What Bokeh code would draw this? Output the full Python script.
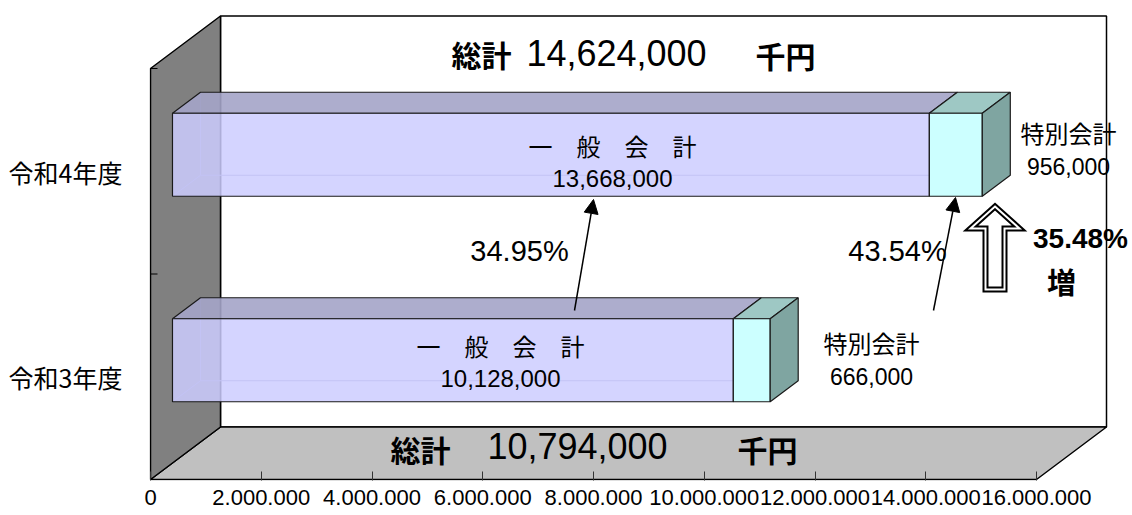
from bokeh.plotting import figure
from bokeh.models import Range1d, FixedTicker, Arrow, NormalHead
from bokeh.core.properties import value
from bokeh.embed import file_html
from bokeh.resources import INLINE

# ---------------- data ----------------
years = ["令和3年度", "令和4年度"]
general = [10128000, 13668000]      # 一般会計
special = [666000, 956000]          # 特別会計
totals = [10794000, 14624000]       # 総計
general_name = "一　般　会　計"
special_name = "特別会計"
total_name = "総計"
unit_name = "千円"
growth_general = "34.95%"
growth_special = "43.54%"
growth_total = "35.48%"
growth_word = "増"
x_ticks = [0, 2000000, 4000000, 6000000, 8000000, 10000000, 12000000, 14000000, 16000000]
x_tick_labels = ["0", "2.000.000", "4.000.000", "6.000.000", "8.000.000",
                 "10.000.000", "12.000.000", "14.000.000", "16.000.000"]

# ---------------- layout ----------------
W, H = 1132, 515
LEFT, BOTTOM = 149, 35
FRAME_W = W - LEFT
FRAME_H = H - BOTTOM
X_MAX = x_ticks[-1]
PX = 886.0 / X_MAX            # px per value unit on the front plane
x_start = -1.0 / PX
x_end = x_start + FRAME_W / PX
y_top = 479.0
y_start = y_top - FRAME_H

DXv = 70.0 / PX               # wall depth (x, in value units)
DY = 52.5                     # wall depth (y, px)
WALL_H = 411.0
BAND = WALL_H / len(years)
BAR_H = 83.0
T0, T1 = 0.314, 0.714

CJK = "Noto Sans CJK JP"
LAT = "Liberation Sans"


def X(px):
    return (px - 150.0) / PX


def Y(py):
    return 479.0 - py


p = figure(width=W, height=H, x_range=Range1d(x_start, x_end), y_range=Range1d(y_start, y_top),
           output_backend="svg", toolbar_location=None,
           min_border_left=LEFT, min_border_right=0, min_border_top=0, min_border_bottom=BOTTOM)
p.outline_line_color = None
p.xgrid.visible = False
p.ygrid.visible = False
p.background_fill_color = "white"
p.border_fill_color = "white"

# x axis
xa = p.xaxis[0]
xa.ticker = FixedTicker(ticks=x_ticks)
xa.major_label_overrides = {t: l for t, l in zip(x_ticks, x_tick_labels)}
xa.axis_line_color = None
xa.major_tick_in = 9
xa.major_tick_out = 0
xa.major_tick_line_color = "#333333"
xa.minor_tick_line_color = None
xa.major_label_standoff = 9
xa.major_label_text_font = LAT
xa.major_label_text_font_size = "22px"
xa.major_label_text_color = "black"

# y axis (categories)
cat_centers = [int(round((i + 0.5) * BAND)) for i in range(len(years))]
ya = p.yaxis[0]
ya.ticker = FixedTicker(ticks=cat_centers)
ya.major_label_overrides = {c: n for c, n in zip(cat_centers, years)}
ya.axis_line_color = None
ya.major_tick_line_color = None
ya.minor_tick_line_color = None
ya.major_label_standoff = 21
ya.major_label_text_font = CJK
ya.major_label_text_font_size = "25px"
ya.major_label_text_color = "black"

# ---------------- walls ----------------
p.quad(left=[DXv], right=[X_MAX + DXv], bottom=[DY], top=[WALL_H + DY],
       fill_color="white", line_color="black", line_width=1.5)
p.patch([0, X_MAX, X_MAX + DXv, DXv], [0, 0, DY, DY],
        fill_color="#C0C0C0", line_color="black", line_width=1.5)
p.patch([0, DXv, DXv, 0], [0, DY, WALL_H + DY, WALL_H],
        fill_color="#808080", line_color="black", line_width=1.5)
# category boundary ticks on the wall
bounds = [i * BAND for i in range(len(years) + 1)]
p.segment(x0=[0] * len(bounds), y0=bounds, x1=[7 / PX] * len(bounds), y1=bounds,
          line_color="black", line_width=1)

# ---------------- bars ----------------
xoff = T0 * DXv
yoff = T0 * DY
bdx = (T1 - T0) * DXv
bdy = (T1 - T0) * DY
EDGE = "#1a1a1a"

for i in range(len(years)):
    cy = (i + 0.5) * BAND
    bot = cy - BAR_H / 2 + yoff
    top = bot + BAR_H
    g_end = general[i]
    s_end = general[i] + special[i]
    # hidden edges (seen through the translucent front)
    p.multi_line(
        xs=[[xoff + bdx, xoff + bdx], [xoff + bdx, xoff + bdx + g_end], [xoff, xoff + bdx]],
        ys=[[bot + bdy, top + bdy], [bot + bdy, bot + bdy], [bot, bot + bdy]],
        line_color="#8a8ab8", line_width=1)
    # top faces
    p.patches(
        xs=[[xoff, xoff + g_end, xoff + g_end + bdx, xoff + bdx],
            [xoff + g_end, xoff + s_end, xoff + s_end + bdx, xoff + g_end + bdx]],
        ys=[[top, top, top + bdy, top + bdy]] * 2,
        fill_color=["#A4A4C8", "#9EC8C4"], fill_alpha=[0.9, 1.0],
        line_color=EDGE, line_width=1.2)
    # front faces
    p.quad(left=[xoff, xoff + g_end], right=[xoff + g_end, xoff + s_end],
           bottom=[bot, bot], top=[top, top],
           fill_color=["#CCCCFF", "#CCFFFF"], fill_alpha=[0.85, 1.0],
           line_color=EDGE, line_width=1.2)
    # right side face
    p.patch([xoff + s_end, xoff + s_end + bdx, xoff + s_end + bdx, xoff + s_end],
            [bot, bot + bdy, top + bdy, top],
            fill_color="#7FA5A1", line_color=EDGE, line_width=1.2)


def txt(x, y, s, size, font, bold=False):
    p.text(x=[x], y=[y], text=[s], text_font=value(font), text_font_size=f"{size}px",
           text_font_style="bold" if bold else "normal", text_align="center",
           text_baseline="middle", text_color="black")


# totals
txt(X(481), Y(53), total_name, 30, CJK, True)
txt(X(616), Y(52), f"{totals[1]:,}", 36, LAT)
txt(X(785), Y(54), unit_name, 30, CJK, True)
txt(X(420), Y(448), total_name, 30, CJK, True)
txt(X(577), Y(445), f"{totals[0]:,}", 36, LAT)
txt(X(767), Y(448), unit_name, 30, CJK, True)

# bar labels
gen_lbl_x = [X(500), X(612)]
gen_lbl_y = [Y(345), Y(145)]
sp_lbl_x = [X(871), X(1068)]
sp_lbl_y = [Y(342), Y(132)]
for i in range(len(years)):
    txt(gen_lbl_x[i], gen_lbl_y[i], general_name, 24, CJK)
    txt(gen_lbl_x[i], gen_lbl_y[i] - 33, f"{general[i]:,}", 24, LAT)
    txt(sp_lbl_x[i], sp_lbl_y[i], special_name, 24, CJK)
    txt(sp_lbl_x[i], sp_lbl_y[i] - 34, f"{special[i]:,}", 23, LAT)

# growth labels
txt(X(519), Y(250), growth_general, 29, LAT)
txt(X(897), Y(250), growth_special, 29, LAT)
txt(X(1080), Y(238), growth_total, 28, LAT, True)
txt(X(1061), Y(280), growth_word, 29, CJK, True)

# arrows
for (xs, ys, xe, ye) in [(574, 310, 593, 199), (933, 310, 955, 197)]:
    p.add_layout(Arrow(end=NormalHead(size=14, fill_color="black", line_color="black"),
                       x_start=X(xs), y_start=Y(ys), x_end=X(xe), y_end=Y(ye),
                       line_color="black", line_width=1.5))

# hollow block arrow (double outline)
bx = [994.5, 1019, 1004, 1004, 985, 985, 970]
by = [206, 228, 228, 289, 289, 228, 228]
bxs = [X(v) for v in bx]
bys = [Y(v) for v in by]
p.patch(bxs, bys, fill_color="white", line_color="black", line_width=6, line_join="miter")
p.patch(bxs, bys, fill_color=None, line_color="white", line_width=2, line_join="miter")

open("out.html", "w").write(file_html(p, INLINE))
